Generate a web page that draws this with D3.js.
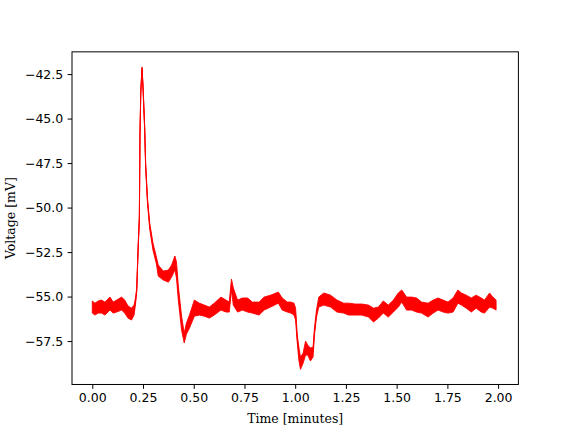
<!DOCTYPE html>
<html><head><meta charset="utf-8">
<script src="https://cdn.jsdelivr.net/npm/d3@7"></script>
<style>body{margin:0;background:#fff}svg{display:block}</style>
</head><body>
<script>
// Time (minutes)
const time = [0.000,0.013,0.029,0.046,0.062,0.087,0.103,0.120,0.144,0.160,0.176,0.193,0.206,0.213,0.219,0.226,0.232,0.235,0.239,0.245,0.250,0.258,0.263,0.272,0.283,0.299,0.316,0.325,0.350,0.375,0.391,0.407,0.415,0.424,0.440,0.453,0.464,0.479,0.503,0.528,0.552,0.577,0.601,0.634,0.659,0.675,0.686,0.695,0.716,0.740,0.765,0.789,0.822,0.847,0.879,0.917,0.936,0.961,0.979,0.994,1.002,1.010,1.018,1.026,1.039,1.051,1.062,1.075,1.088,1.095,1.105,1.116,1.141,1.174,1.206,1.239,1.263,1.296,1.328,1.361,1.386,1.410,1.434,1.459,1.484,1.508,1.525,1.549,1.574,1.598,1.623,1.655,1.680,1.704,1.729,1.753,1.778,1.802,1.819,1.843,1.868,1.892,1.917,1.933,1.958,1.974,1.990];
// Upper envelope of the noisy voltage trace (mV)
const voltageHigh = [-55.25,-55.37,-55.25,-55.20,-55.31,-55.03,-55.31,-55.20,-55.03,-55.20,-55.53,-55.65,-55.48,-55.08,-54.52,-52.11,-50.48,-45.81,-43.40,-42.10,-43.11,-45.36,-47.50,-49.46,-50.87,-51.99,-52.78,-53.23,-53.57,-53.51,-53.23,-52.72,-53.06,-54.41,-56.10,-57.05,-56.49,-56.04,-55.20,-55.37,-55.48,-55.59,-55.37,-55.03,-55.20,-55.31,-54.02,-54.52,-55.20,-55.08,-55.08,-55.31,-55.31,-55.03,-54.92,-54.75,-55.08,-55.31,-55.31,-55.37,-55.65,-57.16,-57.84,-58.40,-58.18,-57.50,-57.73,-57.89,-57.84,-56.77,-55.76,-55.03,-54.80,-54.92,-55.20,-55.37,-55.37,-55.42,-55.42,-55.48,-55.65,-55.59,-55.25,-55.48,-55.20,-54.80,-54.63,-55.03,-55.03,-55.08,-55.31,-55.37,-55.20,-55.08,-55.20,-55.31,-55.08,-54.63,-54.80,-54.92,-55.08,-54.92,-55.08,-55.20,-54.80,-55.03,-55.20];
// Lower envelope of the noisy voltage trace (mV)
const voltageLow = [-55.93,-56.04,-55.93,-55.93,-56.04,-55.76,-55.93,-55.87,-55.76,-55.93,-56.21,-56.32,-56.04,-55.42,-54.75,-52.39,-50.70,-46.04,-43.62,-42.27,-43.34,-45.64,-47.78,-49.75,-51.20,-52.39,-53.17,-53.85,-54.07,-54.19,-53.90,-53.51,-53.96,-55.20,-56.88,-57.61,-57.11,-56.77,-56.10,-56.04,-56.10,-56.21,-56.04,-55.76,-55.87,-55.87,-54.63,-55.48,-55.87,-55.76,-55.87,-55.93,-56.04,-55.76,-55.59,-55.37,-55.76,-55.87,-55.93,-56.04,-56.32,-57.56,-58.57,-59.09,-58.74,-58.29,-58.29,-58.62,-58.40,-57.16,-56.15,-55.59,-55.48,-55.59,-55.87,-55.93,-56.04,-56.04,-56.04,-56.15,-56.43,-56.21,-55.93,-56.15,-55.87,-55.59,-55.31,-55.76,-55.76,-55.87,-55.93,-56.15,-55.93,-55.76,-55.87,-55.93,-55.87,-55.37,-55.48,-55.65,-55.87,-55.65,-55.87,-55.93,-55.59,-55.65,-55.76];
const xTicks = [0.00,0.25,0.50,0.75,1.00,1.25,1.50,1.75,2.00];
const yTicks = [-57.5,-55.0,-52.5,-50.0,-47.5,-45.0,-42.5];
const xRange = [0, 2];

const W = 576, H = 432;
const m = {left: 72, right: 576 - 518.4, top: 51.84, bottom: 432 - 384.48};
const FS = 12.5, TICK = 4.375;
const svg = d3.select("body").append("svg").attr("width", W).attr("height", H);

const xPad = (xRange[1] - xRange[0]) * 0.05;
const x = d3.scaleLinear().domain([xRange[0] - xPad, xRange[1] + xPad]).range([m.left, W - m.right]);
const vMin = d3.min(voltageLow), vMax = d3.max(voltageHigh);
const yPad = (vMax - vMin) * 0.05;
const y = d3.scaleLinear().domain([vMin - yPad, vMax + yPad]).range([H - m.bottom, m.top]);

const data = time.map((t, i) => ({t, hi: voltageHigh[i], lo: voltageLow[i]}));

const area = d3.area().x(d => x(d.t)).y0(d => y(d.lo)).y1(d => y(d.hi));
svg.append("path").datum(data).attr("d", area)
  .attr("fill", "red").attr("stroke", "red").attr("stroke-width", 0.9).attr("stroke-linejoin", "round");
const line = d3.line().x(d => x(d.t)).y(d => y((d.hi + d.lo) / 2));
svg.append("path").datum(data).attr("d", line)
  .attr("fill", "none").attr("stroke", "red").attr("stroke-width", 1);

const fmtMinus = s => s.replace("-", "\u2212");
const xAxis = svg.append("g").attr("transform", `translate(0,${H - m.bottom})`)
  .call(d3.axisBottom(x).tickValues(xTicks).tickFormat(d => fmtMinus(d3.format(".2f")(d))).tickSize(TICK).tickPadding(TICK));
const yAxis = svg.append("g").attr("transform", `translate(${m.left},0)`)
  .call(d3.axisLeft(y).tickValues(yTicks).tickFormat(d => fmtMinus(d3.format(".1f")(d))).tickSize(TICK).tickPadding(TICK));
[xAxis, yAxis].forEach(g => {
  g.select(".domain").remove();
  g.selectAll("line").attr("stroke", "black").attr("stroke-width", 1);
  g.selectAll("text").attr("font-family", "DejaVu Sans").attr("font-size", FS).attr("fill", "black");
});

svg.append("rect").attr("x", m.left).attr("y", m.top)
  .attr("width", W - m.left - m.right).attr("height", H - m.top - m.bottom)
  .attr("fill", "none").attr("stroke", "black").attr("stroke-width", 1);

svg.append("text").attr("x", (m.left + W - m.right) / 2).attr("y", 423)
  .attr("text-anchor", "middle").attr("font-family", "DejaVu Serif").attr("font-size", FS)
  .text("Time [minutes]");
svg.append("text").attr("transform", `translate(14.5,${(m.top + H - m.bottom) / 2}) rotate(-90)`)
  .attr("text-anchor", "middle").attr("font-family", "DejaVu Serif").attr("font-size", FS)
  .text("Voltage [mV]");
</script>
</body></html>
